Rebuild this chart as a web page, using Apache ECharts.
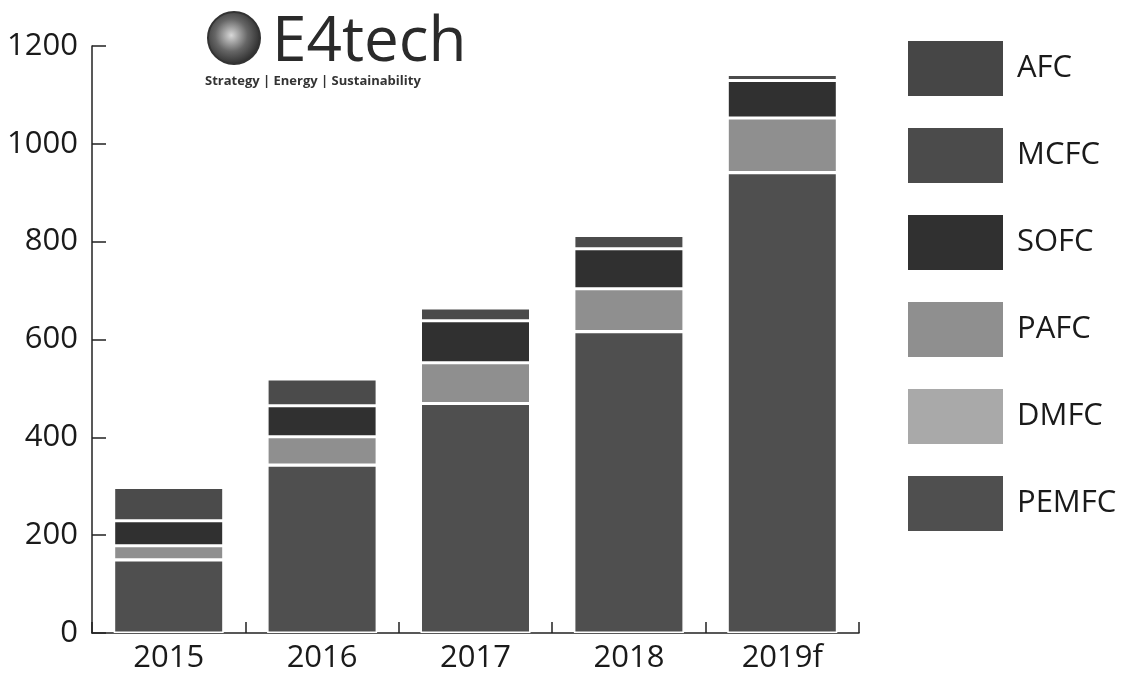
<!DOCTYPE html>
<html>
<head>
<meta charset="utf-8">
<script src="https://cdn.jsdelivr.net/npm/echarts@6/dist/echarts.min.js"></script>
<style>
html,body{margin:0;padding:0;background:#fff;}
#chart{width:1121px;height:675px;}
</style>
</head>
<body>
<div id="chart"></div>
<script>
const categories = ['2015', '2016', '2017', '2018', '2019f'];
const PEMFC = [149, 343, 469, 616, 941];
const DMFC  = [0.5, 0.4, 0.4, 0.5, 0.6];
const PAFC  = [29, 58, 83, 87, 111];
const SOFC  = [51, 63, 86, 82, 77];
const MCFC  = [68, 55, 26, 27, 12];
const AFC   = [1, 0.5, 0.5, 0.5, 0.5];
const legendOrder = ['AFC', 'MCFC', 'SOFC', 'PAFC', 'DMFC', 'PEMFC'];

const colors = {
  PEMFC: '#4f4f4f', DMFC: '#a9a9a9', PAFC: '#8f8f8f',
  SOFC: '#303030', MCFC: '#4b4b4b', AFC: '#464646'
};
const seriesData = [
  ['PEMFC', PEMFC], ['DMFC', DMFC], ['PAFC', PAFC],
  ['SOFC', SOFC], ['MCFC', MCFC], ['AFC', AFC]
];
const FONT = "'Open Sans', sans-serif";
const TXT = '#1a1a1a';

const chart = echarts.init(document.getElementById('chart'), null, {renderer: 'canvas'});
chart.setOption({
  animation: false,
  backgroundColor: '#fff',
  grid: {left: 92, right: 262, top: 46, bottom: 42},
  legend: {
    orient: 'vertical',
    left: 906, top: 39, padding: 0,
    itemWidth: 97, itemHeight: 57, itemGap: 28,
    icon: 'rect',
    data: legendOrder,
    textStyle: {fontFamily: FONT, fontSize: 31, color: TXT, padding: [0, 0, 0, 8]}
  },
  xAxis: {
    type: 'category',
    data: categories,
    axisLine: {show: true, lineStyle: {color: '#222', width: 1.5}},
    axisTick: {show: true, inside: true, length: 11, lineStyle: {color: '#222', width: 1.5}},
    axisLabel: {fontFamily: FONT, fontSize: 31, color: TXT, margin: 10}
  },
  yAxis: {
    type: 'value',
    min: 0, max: 1200, interval: 200,
    axisLine: {show: true, lineStyle: {color: '#222', width: 1.5}},
    axisTick: {show: true, inside: true, length: 14, lineStyle: {color: '#222', width: 1.5}},
    splitLine: {show: false},
    axisLabel: {fontFamily: FONT, fontSize: 31, color: TXT, margin: 14, formatter: v => String(v)}
  },
  series: seriesData.map(([name, data]) => ({
    name, type: 'bar', stack: 'total', data,
    barWidth: 110,
    itemStyle: {color: colors[name], borderColor: '#fff', borderWidth: 1.5}
  })),
  graphic: [
    {
      type: 'circle', shape: {cx: 234, cy: 38, r: 26},
      style: {
        fill: new echarts.graphic.RadialGradient(0.45, 0.45, 0.6, [
          {offset: 0, color: '#d8d8d8'}, {offset: 0.5, color: '#666'}, {offset: 1, color: '#222'}
        ]),
        stroke: '#333', lineWidth: 2
      }
    },
    {
      type: 'text', left: 272, top: 12,
      style: {text: 'E4tech', font: "62px 'Open Sans', sans-serif", fill: '#2a2a2a'}
    },
    {
      type: 'text', left: 205, top: 75,
      style: {text: 'Strategy | Energy | Sustainability', font: "bold 13px 'Open Sans', sans-serif", fill: '#333'}
    }
  ]
});
</script>
</body>
</html>
